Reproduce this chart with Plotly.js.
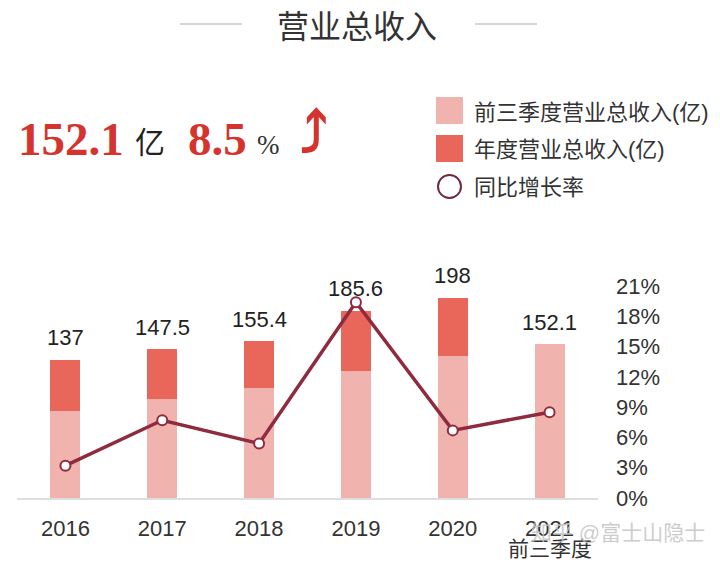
<!DOCTYPE html>
<html>
<head>
<meta charset="utf-8">
<script src="https://cdn.plot.ly/plotly-3.0.1.min.js"></script>
<style>
  html, body { margin: 0; padding: 0; background: #fff; }
  #chart { width: 720px; height: 564px; }
</style>
</head>
<body>
<div id="chart"></div>
<script>
// 营业总收入 (亿) 与同比增长率
const years = ['2016', '2017', '2018', '2019', '2020', '2021'];
const totals = [137, 147.5, 155.4, 185.6, 198, 152.1];     // 年度营业总收入 (2021 为前三季度)
const q3Revenue = [86.5, 98.3, 109.1, 126, 140.7, 152.1];  // 前三季度营业总收入
const growth = [3.2, 7.7, 5.4, 19.4, 6.7, 8.5];            // 同比增长率 %
const pctTicks = [0, 3, 6, 9, 12, 15, 18, 21];

// 年度 - 前三季度 = 第四季度部分 (2021 还没有)
const annualRest = totals.map((t, i) => i < 5 ? +(t - q3Revenue[i]).toFixed(1) : null);

const CJK = 'Liberation Sans, Noto Sans CJK SC, sans-serif';
const RED = '#d5342e';
const LIGHT = '#f1b3ae';
const DARK = '#e8665a';
const LINE = '#8f2b3e';

// plot area in pixels
const L = 17, R = 598, T = 270, B = 498;
const X = p => (p - L) / (R - L);
const Y = p => (B - p) / (B - T);

const traces = [
    {
        x: years, y: q3Revenue, type: 'bar', name: '前三季度营业总收入(亿)',
        marker: { color: LIGHT }, hoverinfo: 'skip'
    },
    {
        x: years, y: annualRest, type: 'bar', name: '年度营业总收入(亿)',
        marker: { color: DARK }, hoverinfo: 'skip'
    },
    {
        x: years, y: growth, type: 'scatter', mode: 'lines+markers', yaxis: 'y2',
        name: '同比增长率', cliponaxis: false,
        line: { color: LINE, width: 3.5 },
        marker: { size: 10, color: '#fff', line: { color: LINE, width: 2 } }
    }
];

// paper-positioned text helper
function note(px, py, text, font, xanchor) {
    return {
        x: X(px), y: Y(py), xref: 'paper', yref: 'paper', text: text, showarrow: false,
        xanchor: xanchor || 'center', yanchor: 'middle', font: font
    };
}

const annotations = [];

// 柱顶数值
years.forEach((yr, i) => {
    annotations.push({
        x: i, y: totals[i], xref: 'x', yref: 'y', text: String(totals[i]),
        showarrow: false, xanchor: 'center', yanchor: 'middle', yshift: 22,
        font: { family: CJK, size: 22, color: '#222' }
    });
});

annotations.push(
    // 标题
    note(357, 24, '营业总收入', { family: 'Noto Sans CJK SC', size: 32, color: '#333' }),
    { x: 5, y: Y(548), xref: 'x', yref: 'paper', text: '前三季度', showarrow: false,
      xanchor: 'center', yanchor: 'middle',
      font: { family: CJK, size: 21, color: '#333' } },
    note(618, 532, '知乎 @富士山隐士', { family: CJK, size: 21, color: 'rgba(195,195,195,0.85)' }),
    // 顶部大数字
    note(16, 139, '<b>' + totals[5] + '</b>', { family: 'Liberation Serif', size: 47, color: RED }, 'left'),
    note(133, 140, '亿', { family: 'Noto Sans CJK SC', size: 30, color: '#222' }, 'left'),
    note(186, 139, '<b>' + growth[5] + '</b>', { family: 'Liberation Serif', size: 47, color: RED }, 'left'),
    note(255, 145, '%', { family: 'Liberation Serif', size: 27, color: '#333' }, 'left'),
    note(314, 133, '<b>⤴</b>', { family: 'DejaVu Sans', size: 56, color: RED }),
    // 图例文字
    note(472, 112, '前三季度营业总收入(亿)', { family: CJK, size: 22, color: '#333' }, 'left'),
    note(472, 149, '年度营业总收入(亿)', { family: CJK, size: 22, color: '#333' }, 'left'),
    note(472, 187, '同比增长率', { family: CJK, size: 22, color: '#333' }, 'left')
);

const shapes = [
    // 标题两侧横线
    { type: 'line', xref: 'paper', yref: 'paper', x0: X(180), x1: X(242), y0: Y(24), y1: Y(24),
      line: { color: '#c8c8c8', width: 1.5 } },
    { type: 'line', xref: 'paper', yref: 'paper', x0: X(475), x1: X(537), y0: Y(24), y1: Y(24),
      line: { color: '#c8c8c8', width: 1.5 } },
    // 图例色块
    { type: 'rect', xref: 'paper', yref: 'paper', x0: X(436), x1: X(463), y0: Y(97), y1: Y(124),
      fillcolor: LIGHT, line: { width: 0 } },
    { type: 'rect', xref: 'paper', yref: 'paper', x0: X(436), x1: X(463), y0: Y(135), y1: Y(162),
      fillcolor: DARK, line: { width: 0 } },
    { type: 'circle', xref: 'paper', yref: 'paper', x0: X(438), x1: X(461), y0: Y(175), y1: Y(198),
      fillcolor: '#fff', line: { color: '#6e2a3e', width: 2 } }
];

const layout = {
    width: 720, height: 564,
    margin: { l: L, r: 720 - R, t: T, b: 564 - B },
    paper_bgcolor: '#fff', plot_bgcolor: '#fff',
    showlegend: false,
    barmode: 'stack', bargap: 0.69,
    xaxis: {
        type: 'category', range: [-0.5, 5.5], fixedrange: true,
        showline: true, linecolor: '#dedede', linewidth: 1.5, showgrid: false, zeroline: false,
        ticks: '', ticklabelstandoff: 10,
        tickfont: { family: CJK, size: 22, color: '#333' }
    },
    yaxis: {
        range: [0, 225.7], visible: false, fixedrange: true
    },
    yaxis2: {
        overlaying: 'y', side: 'right', range: [0, 22.59], fixedrange: true,
        tickvals: pctTicks, ticktext: pctTicks.map(v => v + '%'),
        showgrid: false, zeroline: false, showline: false, ticks: '', ticklabelstandoff: 17,
        tickfont: { family: CJK, size: 22, color: '#333' }
    },
    annotations: annotations,
    shapes: shapes
};

Plotly.newPlot('chart', traces, layout, { displayModeBar: false, staticPlot: true });
</script>
</body>
</html>
